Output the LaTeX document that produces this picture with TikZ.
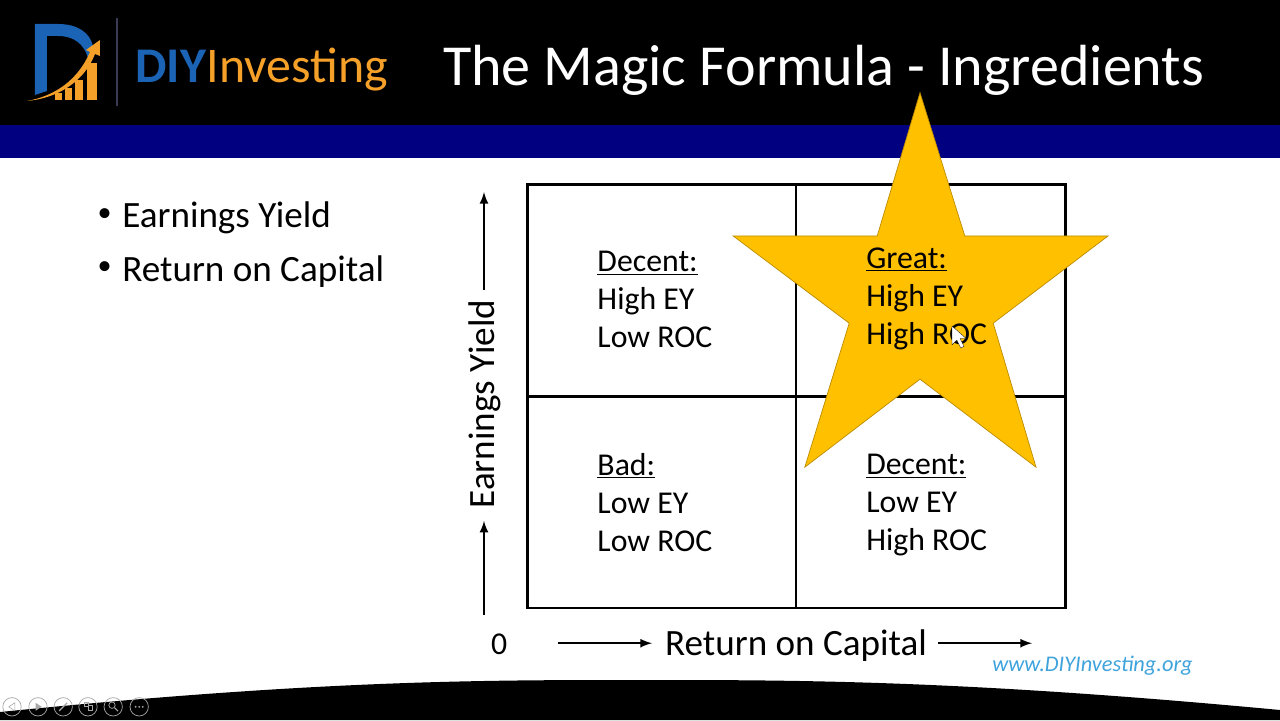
\documentclass[tikz,border=0pt]{standalone}
\usepackage{fontspec}
\setmainfont{Carlito}
\usepackage{tikz}
\definecolor{bandblue}{HTML}{000080}
\definecolor{stargold}{HTML}{FFC000}
\definecolor{starline}{HTML}{BC8C00}
\definecolor{logoblue}{HTML}{1B63B5}
\definecolor{logoorange}{HTML}{F5A028}
\definecolor{logoline}{HTML}{3A3A55}
\definecolor{urlblue}{HTML}{3FA3DC}
\definecolor{icongray}{HTML}{A8A8A8}
\tikzset{
	celltext/.style={anchor=north west, align=left, inner sep=0pt, font=\fontsize{22.6}{27}\selectfont},
	bullettext/.style={anchor=west, inner sep=0pt, font=\fontsize{26.4}{30}\selectfont},
	dottext/.style={anchor=east, inner sep=0pt, font=\fontsize{20}{24}\selectfont},
	axistext/.style={inner sep=0pt, font=\fontsize{26.4}{30}\selectfont},
	axisarrow/.style={-latex, line width=1.8pt},
	gridline/.style={line width=1.9pt},
	iconring/.style={draw=icongray, line width=0.5pt, fill=none},
}
\begin{document}
\begin{tikzpicture}

\useasboundingbox (0,0) rectangle (32,18);

% header and footer
\fill[white] (0,0) rectangle (32,18);
\fill[black] (0,14.88) rectangle (32,18);
\fill[bandblue] (0,14.05) rectangle (32,14.88);
\fill[black] (0,0) -- (0,0.2) .. controls (8,1) and (12,1) .. (16,1) .. controls (20,1) and (24,1) .. (32,0.25) -- (32,0) -- cycle;

% logo
\begin{scope}[x=0.025cm, y=-0.025cm, yshift=18cm]
\fill[logoblue] (35,24) -- (58,24) .. controls (78,24) and (90,33) .. (93,46) -- (88,58) .. controls (84,44) and (74,36) .. (58,36) -- (47,36) -- (47,91) -- (35,95) -- cycle;
\foreach \x/\w/\t in {55/7/93, 65/7/88, 75/8/80, 87/10/63}
	\fill[logoorange] (\x,\t) rectangle (\x+\w,100);
\fill[logoorange] (27,101) .. controls (55,96) and (78,80) .. (90,52) -- (86,50) -- (100,40) -- (100,56) -- (95,54) .. controls (85,80) and (60,98) .. (27,101) -- cycle;
\draw[line width=0.8pt, logoline] (117,18) -- (117,106);
\end{scope}
\node[inner sep=0pt, anchor=west, font=\fontsize{35.5}{36}\selectfont] (logotext) at (3.38,16.25) {\textcolor{logoblue}{\textbf{DIY}}\textcolor{logoorange}{Investing}};

% title
\node[inner sep=0pt, anchor=west, text=white, font=\fontsize{41.3}{44}\selectfont] (title) at (11.07,16.25) {The Magic Formula - Ingredients};

% bullets
\node[bullettext] (bulletey) at (3.05,12.55) {Earnings Yield};
\node[bullettext] (bulletroc) at (3.05,11.22) {Return on Capital};
\node[dottext] (dotey) at (2.8,12.62) {•};
\node[dottext] (dotroc) at (2.8,11.29) {•};

% grid
\draw[gridline] (13.18,2.8) rectangle (26.63,13.38);
\draw[gridline] (19.9,2.8) -- (19.9,13.38);
\draw[gridline] (13.18,8.08) -- (26.63,8.08);

% star
\draw[fill=stargold, draw=starline, line width=0.5pt] (23,15.68) -- (24.12,12.1) -- (27.7,12.1) -- (24.83,9.92) -- (25.9,6.32) -- (23,8.52) -- (20.12,6.32) -- (21.23,9.92) -- (18.33,12.1) -- (21.93,12.1) -- cycle;

% cells
\node[celltext] (decenta) at (14.93,11.72) {\underline{Decent:}\\High EY\\Low ROC};
\node[celltext] (great) at (21.65,11.82) {\underline{Great:}\\High EY\\High ROC};
\node[celltext] (bad) at (14.93,6.67) {\underline{Bad:}\\Low EY\\Low ROC};
\node[celltext] (decentb) at (21.65,6.65) {\underline{Decent:}\\Low EY\\High ROC};

% cursor
\draw[fill=white, draw=black, line width=0.2pt] (23.8,9.85) -- (23.8,9.38) -- (23.92,9.5) -- (24.02,9.3) -- (24.1,9.34) -- (24,9.54) -- (24.15,9.54) -- cycle;

% axes
\node[axistext, rotate=90] (yaxis) at (12.13,7.9) {Earnings Yield};
\node[axistext] (xaxis) at (19.9,1.85) {Return on Capital};
\node[inner sep=0pt, font=\fontsize{22.6}{24}\selectfont] (zero) at (12.48,1.9) {0};
\node[inner sep=0pt, anchor=west, text=urlblue, font=\itshape\fontsize{15.9}{18}\selectfont] (url) at (24.8,1.37) {www.DIYInvesting.org};

\coordinate (ya) at (12.1,10.75);
\coordinate (yb) at (12.1,13.2);
\coordinate (yc) at (12.1,2.62);
\coordinate (yd) at (12.1,4.98);
\coordinate (xa) at (13.95,1.92);
\coordinate (xb) at (16.3,1.92);
\coordinate (xc) at (23.45,1.92);
\coordinate (xd) at (25.8,1.92);

\foreach \from/\to in {ya/yb, yc/yd, xa/xb, xc/xd}
	\draw[axisarrow] (\from) to (\to);

% slide show buttons
\foreach \x in {0.3,0.95,1.58,2.2,2.83,3.48}
	\draw[iconring] (\x,0.33) circle (0.23);
\draw[icongray, line width=0.4pt] (0.37,0.43) -- (0.22,0.33) -- (0.37,0.23) -- cycle;
\fill[icongray] (0.89,0.43) -- (1.04,0.33) -- (0.89,0.23) -- cycle;
\draw[icongray, line width=0.9pt] (1.48,0.23) -- (1.68,0.43);
\draw[icongray, line width=0.5pt] (2.1,0.33) rectangle (2.2,0.43);
\draw[icongray, line width=0.5pt] (2.2,0.23) rectangle (2.32,0.37);
\draw[icongray, line width=0.5pt] (2.8,0.37) circle (0.08);
\draw[icongray, line width=0.8pt] (2.86,0.31) -- (2.95,0.22);
\foreach \x in {3.39,3.48,3.57}
	\fill[icongray] (\x,0.33) circle (0.025);

\end{tikzpicture}
\end{document}
